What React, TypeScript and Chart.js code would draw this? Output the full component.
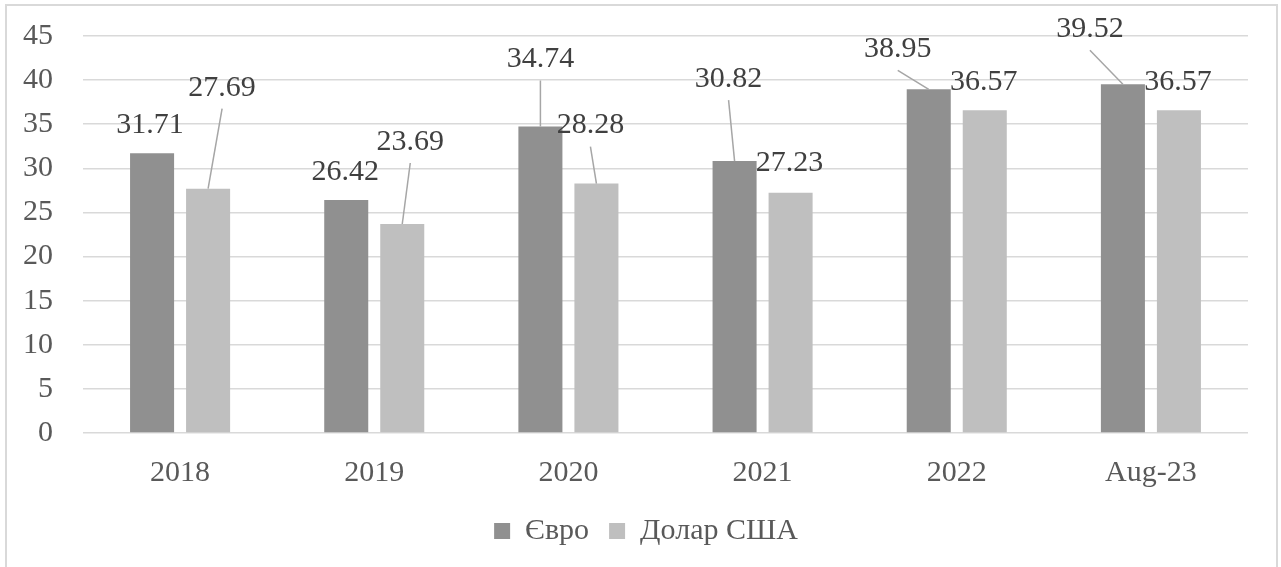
import React, { useEffect, useRef } from "react";
import { Chart, registerables } from "chart.js";

Chart.register(...registerables);

const categories = ["2018", "2019", "2020", "2021", "2022", "Aug-23"];
const seriesNames = ["Євро", "Долар США"];
const euroValues = [31.71, 26.42, 34.74, 30.82, 38.95, 39.52];
const usdValues = [27.69, 23.69, 28.28, 27.23, 36.57, 36.57];
const yTicks = [0, 5, 10, 15, 20, 25, 30, 35, 40, 45];

// label placement relative to bar top (px) and whether a leader line is drawn
const euroLabelOffsets = [[-2, -28, 0], [-1, -28, 0], [0, -67, 1], [-6, -82, 1], [-31, -40, 1], [-33, -55, 1]];
const usdLabelOffsets = [[14, -101, 1], [8, -82, 1], [-6, -58, 1], [-1, -30, 0], [-1, -28, 0], [-1, -28, 0]];

const FONT = "'Liberation Serif', 'Times New Roman', serif";

const dataLabelPlugin = {
  id: "dataLabels",
  afterLayout(chart: any) {
    if (chart.legend) chart.legend.left = 44;
  },
  afterDatasetsDraw(chart: any) {
    const ctx = chart.ctx;
    const offsets = [euroLabelOffsets, usdLabelOffsets];
    ctx.save();
    ctx.font = `30px ${FONT}`;
    ctx.textAlign = "center";
    ctx.textBaseline = "middle";
    chart.data.datasets.forEach((ds: any, di: number) => {
      const meta = chart.getDatasetMeta(di);
      meta.data.forEach((el: any, i: number) => {
        const [dx, dy, leader] = offsets[di][i];
        const lx = el.x + dx;
        const ly = el.y + dy;
        if (leader) {
          ctx.strokeStyle = "#a6a6a6";
          ctx.lineWidth = 1.5;
          ctx.beginPath();
          ctx.moveTo(lx, ly + 21);
          ctx.lineTo(el.x, el.y);
          ctx.stroke();
        }
        ctx.fillStyle = "#404040";
        ctx.fillText(ds.data[i].toFixed(2), lx, ly);
      });
    });
    ctx.restore();
  },
};

export default function App() {
  const ref = useRef<HTMLCanvasElement>(null);
  useEffect(() => {
    if (!ref.current) return;
    const chart = new Chart(ref.current, {
      type: "bar",
      data: {
        labels: categories,
        datasets: [
          { label: seriesNames[0], data: euroValues, backgroundColor: "#909090", categoryPercentage: 0.577, barPercentage: 0.786 },
          { label: seriesNames[1], data: usdValues, backgroundColor: "#bfbfbf", categoryPercentage: 0.577, barPercentage: 0.786 },
        ],
      },
      options: {
        responsive: false,
        animation: false,
        layout: { padding: { left: 0, right: 33, top: 36, bottom: 11 } },
        scales: {
          x: {
            grid: { display: false },
            border: { display: false },
            ticks: { color: "#595959", font: { family: FONT, size: 30 }, padding: 14 },
            afterFit: (s: any) => { s.height = 63; s.paddingLeft = 0; s.paddingRight = 0; },
          },
          y: {
            min: 0,
            max: 45,
            afterBuildTicks: (s: any) => { s.ticks = yTicks.map((v) => ({ value: v })); },
            grid: { color: "#d9d9d9", lineWidth: 1.5, drawTicks: false },
            border: { display: false },
            ticks: { color: "#595959", font: { family: FONT, size: 30 }, padding: 30 },
            afterFit: (s: any) => { s.width = 83; s.paddingTop = 0; s.paddingBottom = 0; },
          },
        },
        plugins: {
          legend: {
            position: "bottom",
            labels: {
              color: "#595959",
              font: { family: FONT, size: 30 },
              boxWidth: 16,
              boxHeight: 16,
              padding: 20,
            },
          },
          tooltip: { enabled: false },
        },
      },
      plugins: [dataLabelPlugin],
    });
    return () => chart.destroy();
  }, []);
  return (
    <div style={{ position: "fixed", left: 0, top: 0, width: 1281, height: 567, overflow: "hidden", background: "#fff" }}>
      <div style={{ position: "absolute", left: 5, top: 4, width: 1269, height: 700, border: "2px solid #d9d9d9" }} />
      <canvas ref={ref} width={1281} height={567} style={{ position: "absolute", left: 0, top: 0 }} />
    </div>
  );
}
